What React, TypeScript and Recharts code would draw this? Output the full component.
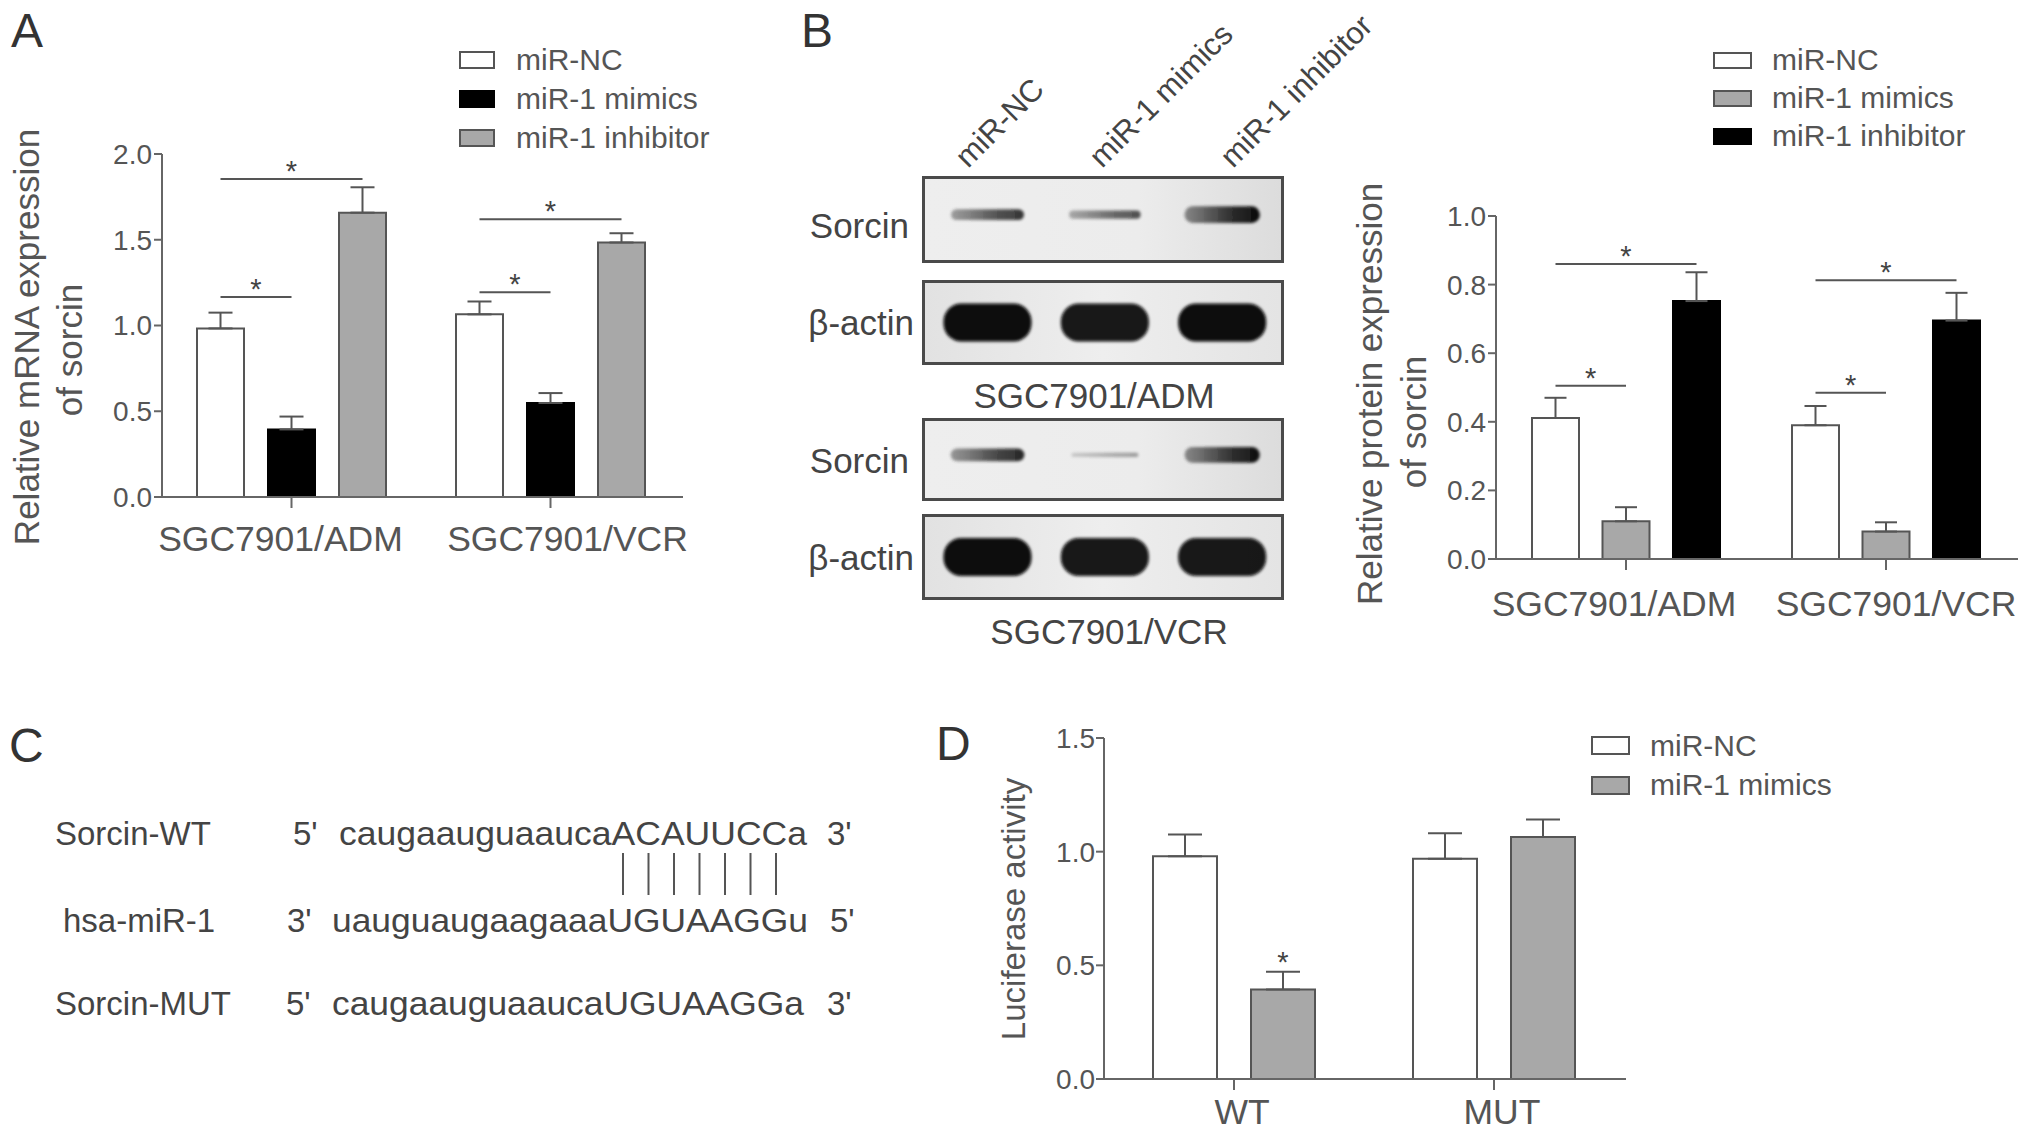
import React from "react";
import { BarChart, Bar, XAxis, YAxis, ErrorBar, Legend, Rectangle } from "recharts";

const FONT = '"Liberation Sans", Arial, Helvetica, sans-serif';
const INK = "#555";
const AXIS = "#666";
const GREY = "#a8a8a8";

// A: relative mRNA expression of sorcin
const cellLines = ["SGC7901/ADM", "SGC7901/VCR"];
const groupNames = ["miR-NC", "miR-1 mimics", "miR-1 inhibitor"];
const mrnaNC = [0.983, 1.065];
const mrnaNCErr = [0.092, 0.075];
const mrnaMimics = [0.394, 0.548];
const mrnaMimicsErr = [0.075, 0.058];
const mrnaInhibitor = [1.658, 1.484];
const mrnaInhibitorErr = [0.148, 0.054];
const mrnaSigShort = [1.166, 1.194];
const mrnaSigLong = [1.854, 1.62];
const mrnaTicks = [0, 0.5, 1, 1.5, 2];

// B: relative protein expression of sorcin
const protNC = [0.411, 0.39];
const protNCErr = [0.059, 0.056];
const protMimics = [0.11, 0.08];
const protMimicsErr = [0.041, 0.027];
const protInhibitor = [0.752, 0.695];
const protInhibitorErr = [0.084, 0.081];
const protSigShort = [0.505, 0.485];
const protSigLong = [0.86, 0.813];
const protTicks = [0, 0.2, 0.4, 0.6, 0.8, 1];

// B: blot lanes, band strength 0..1
const lanes = ["miR-NC", "miR-1 mimics", "miR-1 inhibitor"];
const sorcinADM = [0.7, 0.55, 0.95];
const actinADM = [1, 0.95, 1];
const sorcinVCR = [0.78, 0.12, 0.92];
const actinVCR = [1, 0.95, 0.95];

// C: binding site
const seqNames = ["Sorcin-WT", "hsa-miR-1", "Sorcin-MUT"];
const seqLeft = ["5'", "3'", "5'"];
const seqs = ["caugaauguaaucaACAUUCCa", "uauguaugaagaaaUGUAAGGu", "caugaauguaaucaUGUAAGGa"];
const seqRight = ["3'", "5'", "3'"];
const seedPairs = "ACAUUCC";

// D: luciferase activity
const constructs = ["WT", "MUT"];
const lucNC = [0.98, 0.969];
const lucNCErr = [0.096, 0.112];
const lucMimics = [0.394, 1.064];
const lucMimicsErr = [0.078, 0.077];
const lucStar = [0.54, null];
const lucTicks = [0, 0.5, 1, 1.5];

const mrnaData = cellLines.map((name, i) => ({
  name,
  nc: mrnaNC[i],
  ncErr: [0, mrnaNCErr[i]],
  mimics: mrnaMimics[i],
  mimicsErr: [0, mrnaMimicsErr[i]],
  inhibitor: mrnaInhibitor[i],
  inhibitorErr: [0, mrnaInhibitorErr[i]],
  sigShort: mrnaSigShort[i],
  sigLong: mrnaSigLong[i],
}));

const protData = cellLines.map((name, i) => ({
  name,
  nc: protNC[i],
  ncErr: [0, protNCErr[i]],
  mimics: protMimics[i],
  mimicsErr: [0, protMimicsErr[i]],
  inhibitor: protInhibitor[i],
  inhibitorErr: [0, protInhibitorErr[i]],
  sigShort: protSigShort[i],
  sigLong: protSigLong[i],
}));

const lucData = constructs.map((name, i) => ({
  name,
  nc: lucNC[i],
  ncErr: [0, lucNCErr[i]],
  mimics: lucMimics[i],
  mimicsErr: [0, lucMimicsErr[i]],
  star: lucStar[i],
}));

const fmt = (v: number) => v.toFixed(1);

// bar plus significance brackets / stars, placed with the bar's own scale
function markedBar(valueKey: string, fill: string, stroke: string, step: number) {
  return (p: any) => {
    const { x, y, width, height, payload } = p;
    const base = y + height;
    const per = height / payload[valueKey];
    const cx = x + width / 2;
    const marks: React.ReactNode[] = [];
    ([["sigShort", 1], ["sigLong", 2]] as [string, number][]).forEach(([k, n]) => {
      const v = payload[k];
      if (v == null) return;
      const ly = base - v * per;
      marks.push(<line key={k} x1={cx} x2={cx + n * step} y1={ly} y2={ly} stroke={INK} strokeWidth={2} />);
      marks.push(
        <text key={k + "s"} x={cx + (n * step) / 2} y={ly + 2} textAnchor="middle" fontSize={29} fill="#444" fontFamily={FONT}>
          *
        </text>
      );
    });
    if (payload.star != null) {
      marks.push(
        <text key="star" x={cx} y={base - payload.star * per + 16} textAnchor="middle" fontSize={29} fill="#444" fontFamily={FONT}>
          *
        </text>
      );
    }
    return (
      <g>
        <Rectangle x={x} y={y} width={width} height={height} fill={fill} stroke={stroke} strokeWidth={2} />
        {marks}
      </g>
    );
  };
}

const legendContent = (rectW: number, rectH: number, gap: number, rowH: number) => (props: any) => {
  const items = [...(props.payload || [])].sort(
    (a: any, b: any) => groupNames.indexOf(a.value) - groupNames.indexOf(b.value)
  );
  return (
    <div style={{ fontFamily: FONT }}>
      {items.map((e: any) => {
        const fill = e.payload?.fill ?? e.color;
        return (
          <div key={e.value} style={{ display: "flex", alignItems: "center", height: rowH }}>
            <div
              style={{
                width: rectW,
                height: rectH,
                boxSizing: "border-box",
                background: fill,
                border: `2px solid ${fill === "#000" ? "#000" : INK}`,
              }}
            />
            <span style={{ marginLeft: gap, fontSize: 30, color: INK, whiteSpace: "nowrap" }}>{e.value}</span>
          </div>
        );
      })}
    </div>
  );
};

// category labels, nudged sideways as in the original figure
const catTick = (nudge: number[]) => (p: any) => (
  <text x={p.x + nudge[p.index]} y={p.y} dy="0.71em" textAnchor="middle" fill={INK} fontSize={35.5} fontFamily={FONT}>
    {p.payload.value}
  </text>
);

const tickStyle = { fill: INK, fontSize: 28, fontFamily: FONT };

function MrnaChart() {
  return (
    <div style={{ position: "absolute", left: 0, top: 0 }}>
      <BarChart width={720} height={580} data={mrnaData} margin={{ top: 154, right: 37, bottom: 0, left: 0 }} barSize={47} barGap={24}>
        <XAxis dataKey="name" height={83} interval={0} padding={{ left: 0, right: 3 }} axisLine={{ stroke: AXIS, strokeWidth: 2 }} tickLine={{ stroke: AXIS, strokeWidth: 2 }} tickSize={11} tickMargin={18} tick={catTick([-11, 17])} />
        <YAxis width={162} domain={[0, 2]} ticks={mrnaTicks} interval={0} tickFormatter={fmt} axisLine={{ stroke: AXIS, strokeWidth: 2 }} tickLine={{ stroke: AXIS, strokeWidth: 2 }} tickSize={8} tickMargin={2} tick={tickStyle} />
        <Legend layout="vertical" align="center" verticalAlign="middle" wrapperStyle={{ left: 459, top: 40, width: 300 }} content={legendContent(36, 18, 21, 39)} />
        <Bar dataKey="nc" name="miR-NC" fill="#fff" stroke={INK} isAnimationActive={false} shape={markedBar("nc", "#fff", INK, 71)}>
          <ErrorBar dataKey="ncErr" width={12} stroke={INK} strokeWidth={2} direction="y" />
        </Bar>
        <Bar dataKey="mimics" name="miR-1 mimics" fill="#000" stroke="#000" strokeWidth={2} isAnimationActive={false}>
          <ErrorBar dataKey="mimicsErr" width={12} stroke={INK} strokeWidth={2} direction="y" />
        </Bar>
        <Bar dataKey="inhibitor" name="miR-1 inhibitor" fill={GREY} stroke={INK} strokeWidth={2} isAnimationActive={false}>
          <ErrorBar dataKey="inhibitorErr" width={12} stroke={INK} strokeWidth={2} direction="y" />
        </Bar>
      </BarChart>
    </div>
  );
}

function ProteinChart() {
  return (
    <div style={{ position: "absolute", left: 1180, top: 0 }}>
      <BarChart width={851} height={640} data={protData} margin={{ top: 216, right: 13, bottom: 0, left: 0 }} barSize={47} barGap={23.5}>
        <XAxis dataKey="name" height={81} interval={0} padding={{ left: 0, right: 2 }} axisLine={{ stroke: AXIS, strokeWidth: 2 }} tickLine={{ stroke: AXIS, strokeWidth: 2 }} tickSize={11} tickMargin={21} tick={catTick([-12, 10])} />
        <YAxis width={316} domain={[0, 1]} ticks={protTicks} interval={0} tickFormatter={fmt} axisLine={{ stroke: AXIS, strokeWidth: 2 }} tickLine={{ stroke: AXIS, strokeWidth: 2 }} tickSize={8} tickMargin={2} tick={tickStyle} />
        <Legend layout="vertical" align="center" verticalAlign="middle" wrapperStyle={{ left: 533, top: 41, width: 300 }} content={legendContent(39, 17, 20, 38)} />
        <Bar dataKey="nc" name="miR-NC" fill="#fff" stroke={INK} isAnimationActive={false} shape={markedBar("nc", "#fff", INK, 70.5)}>
          <ErrorBar dataKey="ncErr" width={11} stroke={INK} strokeWidth={2} direction="y" />
        </Bar>
        <Bar dataKey="mimics" name="miR-1 mimics" fill={GREY} stroke={INK} strokeWidth={2} isAnimationActive={false}>
          <ErrorBar dataKey="mimicsErr" width={11} stroke={INK} strokeWidth={2} direction="y" />
        </Bar>
        <Bar dataKey="inhibitor" name="miR-1 inhibitor" fill="#000" stroke="#000" strokeWidth={2} isAnimationActive={false}>
          <ErrorBar dataKey="inhibitorErr" width={11} stroke={INK} strokeWidth={2} direction="y" />
        </Bar>
      </BarChart>
    </div>
  );
}

function LuciferaseChart() {
  return (
    <div style={{ position: "absolute", left: 960, top: 700 }}>
      <BarChart width={900} height={437} data={lucData} margin={{ top: 38, right: 234, bottom: 0, left: 0 }} barSize={64} barGap={34}>
        <XAxis dataKey="name" height={58} interval={0} padding={{ left: 0, right: 2 }} axisLine={{ stroke: AXIS, strokeWidth: 2 }} tickLine={{ stroke: AXIS, strokeWidth: 2 }} tickSize={11} tickMargin={9} tick={catTick([8, 8])} />
        <YAxis width={144} domain={[0, 1.5]} ticks={lucTicks} interval={0} tickFormatter={fmt} axisLine={{ stroke: AXIS, strokeWidth: 2 }} tickLine={{ stroke: AXIS, strokeWidth: 2 }} tickSize={8} tickMargin={1} tick={tickStyle} />
        <Legend layout="vertical" align="center" verticalAlign="middle" wrapperStyle={{ left: 631, top: 26, width: 300 }} content={legendContent(39, 19, 20, 39.5)} />
        <Bar dataKey="nc" name="miR-NC" fill="#fff" stroke={INK} strokeWidth={2} isAnimationActive={false}>
          <ErrorBar dataKey="ncErr" width={17} stroke={INK} strokeWidth={2} direction="y" />
        </Bar>
        <Bar dataKey="mimics" name="miR-1 mimics" fill={GREY} stroke={INK} isAnimationActive={false} shape={markedBar("mimics", GREY, INK, 98)}>
          <ErrorBar dataKey="mimicsErr" width={17} stroke={INK} strokeWidth={2} direction="y" />
        </Bar>
      </BarChart>
    </div>
  );
}

// blot band drawn at the lane position from the category scale
function bandShape(kind: "sorcin" | "actin") {
  return (p: any) => {
    const { x, width, y, height, payload } = p;
    const level = payload.level;
    const full = height / level;
    const base = y + height;
    const cx = x + width / 2;
    if (kind === "actin") {
      const cy = base - full * 0.5;
      const w = 88;
      const t = 38;
      return <rect x={cx - w / 2} y={cy - t / 2} width={w} height={t} rx={18} fill="#080808" opacity={level} filter="url(#blotBlur)" />;
    }
    const cy = base - full * 0.56;
    const w = 66 + 10 * level;
    const t = 4 + 14 * level * level;
    return (
      <rect x={cx - w / 2} y={cy - t / 2} width={w} height={t} rx={t / 2} fill="url(#bandFade)" opacity={0.25 + 0.75 * level} filter="url(#blotBlur)" />
    );
  };
}

function Blot({ top, h, values, kind }: { top: number; h: number; values: number[]; kind: "sorcin" | "actin" }) {
  const data = lanes.map((lane, i) => ({ lane, level: values[i] }));
  const w = 362;
  return (
    <div
      style={{
        position: "absolute",
        left: 922,
        top,
        width: w,
        height: h,
        boxSizing: "border-box",
        border: "3px solid #4a4a4a",
        background: kind === "actin" ? "linear-gradient(to right, #e2e2e2, #eeeeee 50%, #e4e4e4)" : "linear-gradient(to right, #eeeeee, #ececec 60%, #dcdcdc)",
      }}
    >
      <BarChart width={w - 6} height={h - 6} data={data} margin={{ top: 0, right: 0, bottom: 0, left: 4 }} barCategoryGap={0}>
        <XAxis dataKey="lane" hide />
        <YAxis hide domain={[0, 1]} />
        <Bar dataKey="level" isAnimationActive={false} shape={bandShape(kind)} />
      </BarChart>
    </div>
  );
}

function Overlay() {
  const seqX = [339, 332, 332];
  const seqW = [468, 476, 472];
  const nameX = [55, 63, 55];
  const leftX = [293, 287, 286];
  const rightX = [827, 830, 827];
  const baseY = [845, 932, 1015];
  return (
    <svg width={2031} height={1137} style={{ position: "absolute", left: 0, top: 0 }} fontFamily={FONT}>
      <defs>
        <filter id="blotBlur" x="-20%" y="-80%" width="140%" height="260%">
          <feGaussianBlur stdDeviation="1.8" />
        </filter>
        <linearGradient id="bandFade" x1="0" x2="1" y1="0" y2="0">
          <stop offset="0" stopColor="#333" stopOpacity="0.55" />
          <stop offset="0.6" stopColor="#151515" stopOpacity="0.9" />
          <stop offset="1" stopColor="#000" stopOpacity="1" />
        </linearGradient>
      </defs>
      <g fontSize={48} fill="#333">
        <text x={11} y={47}>A</text>
        <text x={801} y={47}>B</text>
        <text x={9} y={762}>C</text>
        <text x={936} y={760}>D</text>
      </g>

      {/* axis titles */}
      <g fontSize={35} fill={INK} textAnchor="middle">
        <text transform="translate(39,337) rotate(-90)">Relative mRNA expression</text>
        <text transform="translate(82,350) rotate(-90)">of sorcin</text>
        <text transform="translate(1382,394) rotate(-90)">Relative protein expression</text>
        <text transform="translate(1426,422) rotate(-90)">of sorcin</text>
        <text fontSize={33} transform="translate(1025,909) rotate(-90)">Luciferase activity</text>
      </g>

      {/* blot labels */}
      <g fontSize={31} fill="#444">
        {lanes.map((l, i) => (
          <text key={l} transform={`translate(${[968, 1102, 1233][i]},169) rotate(-45)`}>{l}</text>
        ))}
      </g>
      <g fontSize={35} fill="#444" textAnchor="end">
        <text x={909} y={238}>Sorcin</text>
        <text x={914} y={335}>β-actin</text>
        <text x={909} y={473}>Sorcin</text>
        <text x={914} y={570}>β-actin</text>
      </g>
      <g fontSize={35} fill="#444" textAnchor="middle">
        <text x={1094} y={408}>{cellLines[0]}</text>
        <text x={1109} y={644}>{cellLines[1]}</text>
      </g>

      {/* C */}
      <g fontSize={33} fill="#444">
        {seqNames.map((n, i) => (
          <g key={n}>
            <text x={nameX[i]} y={baseY[i]}>{n}</text>
            <text x={leftX[i]} y={baseY[i]}>{seqLeft[i]}</text>
            <text x={seqX[i]} y={baseY[i]} textLength={seqW[i]} lengthAdjust="spacingAndGlyphs">{seqs[i]}</text>
            <text x={rightX[i]} y={baseY[i]}>{seqRight[i]}</text>
          </g>
        ))}
      </g>
      <g stroke="#555" strokeWidth={2}>
        {seedPairs.split("").map((c, i) => (
          <line key={i} x1={623 + i * 25.5} x2={623 + i * 25.5} y1={853} y2={895} />
        ))}
      </g>
    </svg>
  );
}

export default function App() {
  return (
    <div style={{ position: "absolute", left: 0, top: 0, width: 2031, height: 1137, background: "#fff", overflow: "hidden", fontFamily: FONT }}>
      <Overlay />
      <MrnaChart />
      <Blot top={176} h={87} values={sorcinADM} kind="sorcin" />
      <Blot top={280} h={85} values={actinADM} kind="actin" />
      <Blot top={418} h={83} values={sorcinVCR} kind="sorcin" />
      <Blot top={514} h={86} values={actinVCR} kind="actin" />
      <ProteinChart />
      <LuciferaseChart />
    </div>
  );
}
